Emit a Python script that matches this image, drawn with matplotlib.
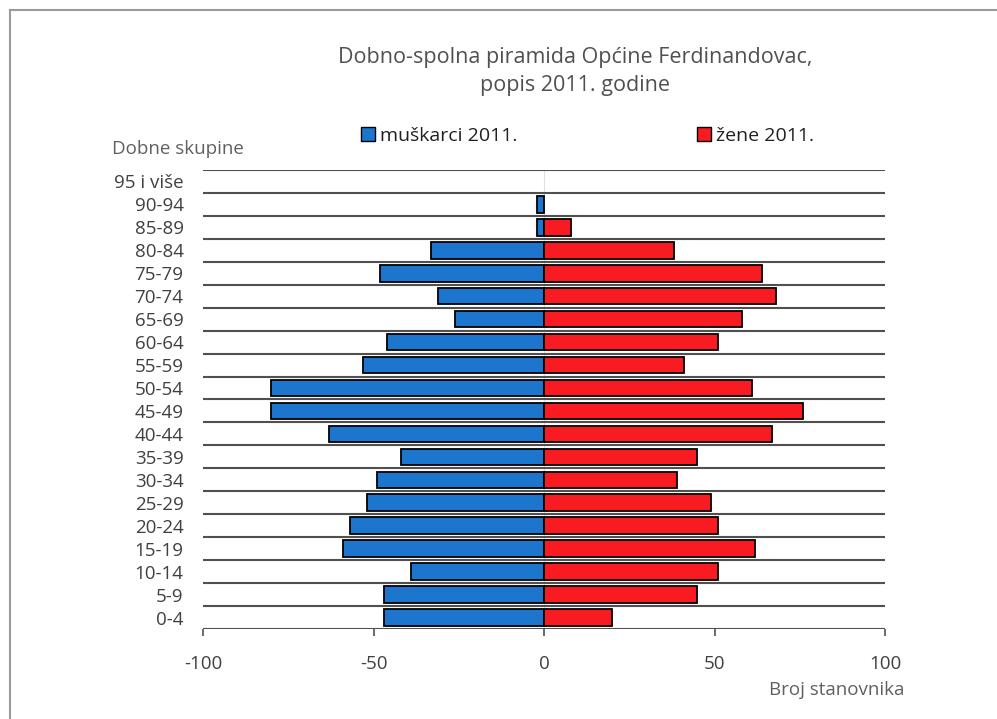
import matplotlib
matplotlib.use("Agg")
import matplotlib.pyplot as plt
from matplotlib.lines import Line2D
from matplotlib.patches import Patch
import numpy as np

categories = ["0-4", "5-9", "10-14", "15-19", "20-24", "25-29", "30-34", "35-39",
              "40-44", "45-49", "50-54", "55-59", "60-64", "65-69", "70-74",
              "75-79", "80-84", "85-89", "90-94", "95 i više"]
men = [-47, -47, -39, -59, -57, -52, -49, -42, -63, -80, -80, -53, -46, -26, -31,
       -48, -33, -2, -2, 0]
women = [20, 45, 51, 62, 51, 49, 39, 45, 67, 76, 61, 41, 51, 58, 68, 64, 38, 8, 0, 0]
xticks = [-100, -50, 0, 50, 100]

plt.rcParams['font.family'] = ['Open Sans', 'DejaVu Sans']
txt = '#404040'
blue = '#1C76CE'
red = '#F81B22'

fig = plt.figure(figsize=(9.97, 7.19), dpi=100)
# frame: top and left lines only
fig.add_artist(Line2D([0.010, 1.0], [0.986, 0.986], transform=fig.transFigure,
                      color='#9a9a9a', linewidth=1.5))
fig.add_artist(Line2D([0.010, 0.010], [0.0, 0.986], transform=fig.transFigure,
                      color='#9a9a9a', linewidth=1.5))

ax = fig.add_axes([0.2036, 0.1252, 0.6841, 0.6384])

y = np.arange(len(categories))
bh = 0.72
lw_m = [1.3 if v != 0 else 0 for v in men]
lw_w = [1.3 if v != 0 else 0 for v in women]
ax.barh(y, men, height=bh, color=blue, edgecolor='black', linewidth=lw_m, zorder=3)
ax.barh(y, women, height=bh, color=red, edgecolor='black', linewidth=lw_w, zorder=3)

for b in np.arange(-0.5, len(categories), 1.0):
    ax.axhline(b, color='#505050', linewidth=1.5, zorder=2)
ax.axvline(0, color='#e0e0e0', linewidth=0.8, zorder=1)

ax.set_xlim(-100, 100)
ax.set_ylim(-0.5, len(categories) - 0.5)
ax.set_yticks(y)
ax.set_yticklabels(categories, fontsize=13.5, color=txt)
ax.set_xticks(xticks)
ax.set_xticklabels([str(v) for v in xticks], fontsize=13.5, color=txt)
ax.tick_params(axis='y', length=0, pad=14)
ax.tick_params(axis='x', length=5, width=1.2, color='#505050', direction='out', pad=14)
for s in ['top', 'right', 'left', 'bottom']:
    ax.spines[s].set_visible(False)

fig.text(0.577, 0.920, "Dobno-spolna piramida Općine Ferdinandovac,", ha='center', va='center',
         fontsize=15.5, color='#505050')
fig.text(0.577, 0.881, "popis 2011. godine", ha='center', va='center',
         fontsize=15.5, color='#505050')
fig.text(0.112, 0.793, "Dobne skupine", ha='left', va='center', fontsize=13.5, color='#606060')
fig.text(0.907, 0.04, "Broj stanovnika", ha='right', va='center', fontsize=13.5, color='#606060')

leg1 = fig.legend(handles=[Patch(facecolor=blue, edgecolor='black', label='muškarci 2011.')],
                  loc='center left', bbox_to_anchor=(0.362, 0.811), frameon=False,
                  fontsize=14, handlelength=0.75, handleheight=0.75, handletextpad=0.25,
                  borderaxespad=0, borderpad=0)
for t in leg1.get_texts():
    t.set_color('#202020')
leg2 = fig.legend(handles=[Patch(facecolor=red, edgecolor='black', label='žene 2011.')],
                  loc='center left', bbox_to_anchor=(0.699, 0.811), frameon=False,
                  fontsize=14, handlelength=0.75, handleheight=0.75, handletextpad=0.25,
                  borderaxespad=0, borderpad=0)
for t in leg2.get_texts():
    t.set_color('#202020')

fig.savefig("out.png", dpi=100)
